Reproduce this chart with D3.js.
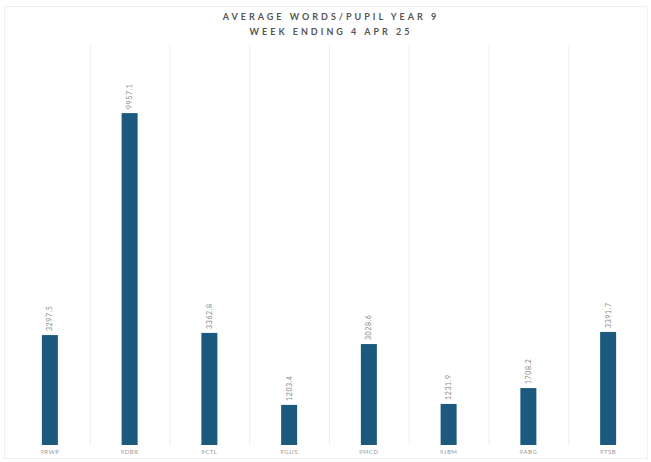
<!DOCTYPE html>
<html><head><meta charset="utf-8">
<script src="https://cdn.jsdelivr.net/npm/d3@7"></script>
<style>body{margin:0;background:#fff;}svg{display:block;}</style>
</head><body>
<script>
const titleLines = ["AVERAGE WORDS/PUPIL YEAR 9", "WEEK ENDING 4 APR 25"];
const categories = ["9RWP", "9DBR", "9CTL", "9GUS", "9MCD", "9JBM", "9ABG", "9TSB"];
const values = [3297.5, 9957.1, 3362.8, 1203.4, 3028.6, 1231.9, 1708.2, 3391.7];

const W = 651, H = 462;
const m = {top: 45, right: 3, bottom: 17, left: 10};
const svg = d3.select("body").append("svg").attr("width", W).attr("height", H);

svg.append("rect").attr("x", 4.5).attr("y", 6.5).attr("width", W - 8).attr("height", H - 10)
  .attr("fill", "none").attr("stroke", "#f0f0f0");

const x = d3.scaleBand().domain(categories).range([m.left, W - m.right]).paddingInner(0).paddingOuter(0);
const y = d3.scaleLinear().domain([0, 12000]).range([H - m.bottom, m.top]);

svg.append("g").selectAll("line").data(categories.slice(1)).join("line")
  .attr("x1", d => x(d) + 0.5).attr("x2", d => x(d) + 0.5)
  .attr("y1", m.top).attr("y2", H - m.bottom)
  .attr("stroke", "#eeeeee");

const bw = 16;
svg.append("g").selectAll("rect").data(values).join("rect")
  .attr("x", (d, i) => x(categories[i]) + x.bandwidth() / 2 - bw / 2)
  .attr("width", bw)
  .attr("y", d => y(d))
  .attr("height", d => y(0) - y(d))
  .attr("fill", "#1b5a7e");

svg.append("g").selectAll("text").data(values).join("text")
  .attr("transform", (d, i) => `translate(${x(categories[i]) + x.bandwidth() / 2 + 2.5},${y(d) - 4}) rotate(-90)`)
  .attr("font-family", "Lato, sans-serif").attr("font-size", 7).attr("fill", "#888")
  .attr("letter-spacing", 0.6)
  .text(d => d3.format(".1f")(d));

const xa = d3.axisBottom(x).tickSize(0).tickPadding(5);
const gx = svg.append("g").attr("transform", `translate(0,${H - m.bottom})`).call(xa);
gx.select(".domain").remove();
gx.selectAll("text").attr("font-family", "Lato, sans-serif").attr("font-size", 6).attr("fill", "#999")
  .attr("letter-spacing", 0.5);

svg.append("g").selectAll("text").data(titleLines).join("text")
  .attr("x", 331).attr("y", (d, i) => 20 + i * 15)
  .attr("text-anchor", "middle")
  .attr("font-family", "Lato, sans-serif").attr("font-weight", "bold").attr("font-size", 9)
  .attr("letter-spacing", 3).attr("fill", "#555")
  .text(d => d);
</script>
</body></html>
